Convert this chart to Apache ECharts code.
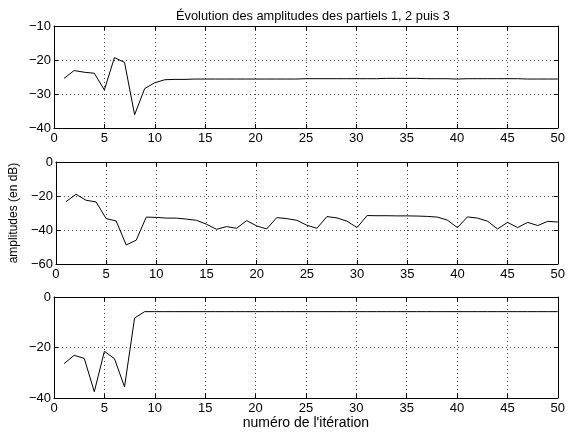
<!DOCTYPE html>
<html lang="fr">
<head>
<meta charset="UTF-8">
<title>Évolution des amplitudes</title>
<style>
  html, body { margin: 0; padding: 0; background: #fff; }
  #main { width: 568px; height: 432px; }
</style>
</head>
<body>
<div id="main"></div>
<script src="https://cdn.jsdelivr.net/npm/echarts@6/dist/echarts.min.js"></script>
<script>
// itérations 1..50
var iterations = [];
for (var i = 1; i <= 50; i++) iterations.push(i);

// partiel 1 (dB)
var partiel1 = [-25.4, -23.1, -23.6, -23.9, -28.8, -19.3, -20.7, -36.1, -28.4, -26.7,
  -25.8, -25.7, -25.7, -25.6, -25.6, -25.6, -25.6, -25.6, -25.6, -25.6,
  -25.6, -25.6, -25.6, -25.6, -25.5, -25.5, -25.5, -25.5, -25.5, -25.5,
  -25.5, -25.5, -25.4, -25.4, -25.4, -25.4, -25.5, -25.5, -25.5, -25.6,
  -25.5, -25.5, -25.5, -25.5, -25.5, -25.5, -25.6, -25.6, -25.6, -25.6];

// partiel 2 (dB)
var partiel2 = [-23.3, -19.0, -22.5, -23.5, -33.3, -34.7, -48.8, -46.0, -32.4, -32.6,
  -33.0, -33.0, -33.6, -34.3, -36.6, -39.6, -38.0, -39.0, -34.5, -37.6,
  -39.4, -32.7, -33.3, -34.3, -37.2, -39.0, -32.1, -32.9, -34.8, -38.6,
  -31.5, -31.6, -31.6, -31.7, -31.7, -31.8, -32.0, -32.4, -34.2, -38.6,
  -32.3, -33.0, -34.8, -39.4, -35.5, -38.6, -35.5, -37.4, -34.9, -35.3];

// partiel 3 (dB)
var partiel3 = [-26.4, -23.1, -24.3, -37.5, -21.5, -24.4, -35.6, -8.3, -5.8, -5.8,
  -5.8, -5.8, -5.8, -5.8, -5.8, -5.8, -5.8, -5.8, -5.8, -5.8,
  -5.8, -5.8, -5.8, -5.8, -5.8, -5.8, -5.8, -5.8, -5.8, -5.8,
  -5.8, -5.8, -5.8, -5.8, -5.8, -5.8, -5.8, -5.8, -5.8, -5.8,
  -5.8, -5.8, -5.8, -5.8, -5.8, -5.8, -5.8, -5.8, -5.8, -5.8];

// bornes des axes y : [min, max, pas]
var yBornes = [[-40, -10, 10], [-60, 0, 20], [-40, 0, 20]];

function pairs(vals) {
  return vals.map(function (v, k) { return [iterations[k], v]; });
}

// signe moins typographique comme dans la figure
function moins(v) {
  return String(v).replace('-', '\u2212');
}

var font = 'Liberation Sans, Arial, sans-serif';
var grids = [
  { left: 54, right: 6, top: 26, height: 102 },
  { left: 54, right: 6, top: 162, height: 102 },
  { left: 54, right: 6, top: 297, height: 101 }
];

var xAxes = [], yAxes = [], series = [];
var donnees = [partiel1, partiel2, partiel3];

grids.forEach(function (g, k) {
  var base = {
    gridIndex: k, type: 'value', min: 0, max: 50, interval: 5,
    axisLine: { onZero: false, lineStyle: { color: '#000', width: 1 } },
    axisTick: { inside: true, length: 4, lineStyle: { color: '#000' } }
  };
  xAxes.push(Object.assign({}, base, {
    position: 'bottom',
    axisLabel: { color: '#000', fontSize: 13, fontFamily: font, margin: 4 },
    splitLine: { show: true, lineStyle: { color: '#444', type: [1, 3] } },
    name: k === 2 ? "numéro de l'itération" : '',
    nameLocation: 'middle', nameGap: 17,
    nameTextStyle: { color: '#000', fontSize: 14, fontFamily: font }
  }));
  xAxes.push(Object.assign({}, base, {
    position: 'top',
    axisLabel: { show: false },
    splitLine: { show: false }
  }));

  var yb = {
    gridIndex: k, type: 'value', min: yBornes[k][0], max: yBornes[k][1], interval: yBornes[k][2],
    axisLine: { onZero: false, lineStyle: { color: '#000', width: 1 } },
    axisTick: { inside: true, length: 4, lineStyle: { color: '#000' } }
  };
  yAxes.push(Object.assign({}, yb, {
    position: 'left',
    axisLabel: { color: '#000', fontSize: 13, fontFamily: font, margin: 3, formatter: moins },
    splitLine: { show: true, lineStyle: { color: '#444', type: [1, 3] } },
    name: k === 1 ? 'amplitudes (en dB)' : '',
    nameLocation: 'middle', nameGap: 25,
    nameTextStyle: { color: '#000', fontSize: 12, fontFamily: font }
  }));
  yAxes.push(Object.assign({}, yb, {
    position: 'right',
    axisLabel: { show: false },
    splitLine: { show: false }
  }));

  series.push({
    type: 'line',
    xAxisIndex: 2 * k,
    yAxisIndex: 2 * k,
    data: pairs(donnees[k]),
    showSymbol: false,
    symbol: 'none',
    lineStyle: { color: '#000', width: 1 },
    animation: false
  });
});

var myChart = echarts.init(document.getElementById('main'));
myChart.setOption({
  backgroundColor: '#fff',
  animation: false,
  title: {
    text: 'Évolution des amplitudes des partiels 1, 2 puis 3',
    left: 308, textAlign: 'center', top: 5,
    textStyle: { color: '#000', fontSize: 12.8, fontWeight: 'normal', fontFamily: font }
  },
  grid: grids,
  xAxis: xAxes,
  yAxis: yAxes,
  series: series
});
</script>
</body>
</html>
